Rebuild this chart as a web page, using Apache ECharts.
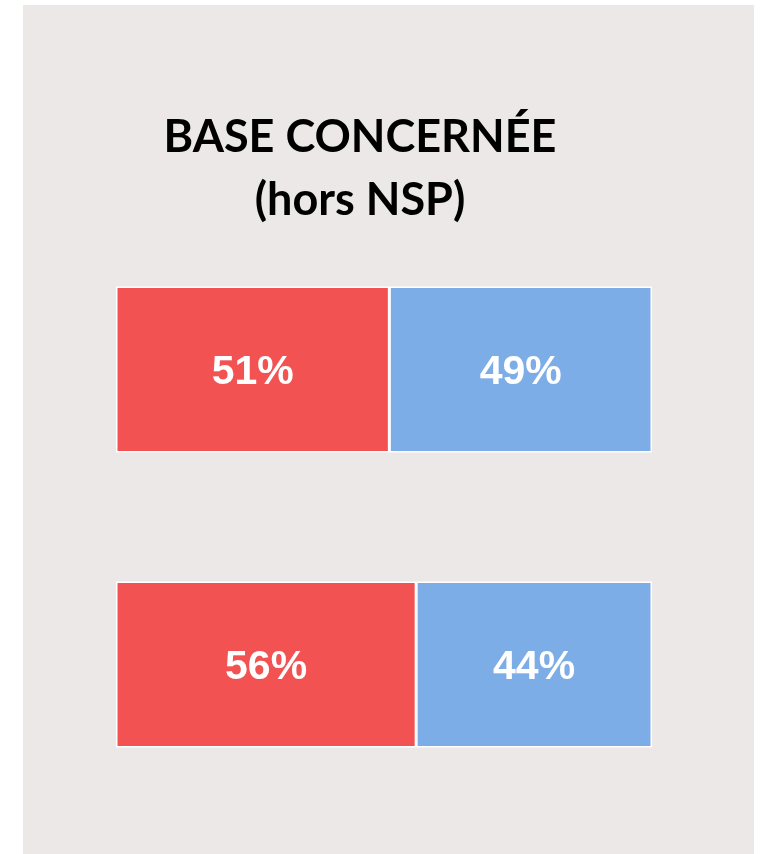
<!DOCTYPE html>
<html>
<head>
<meta charset="utf-8">
<script src="https://cdn.jsdelivr.net/npm/echarts@6/dist/echarts.min.js"></script>
<style>
html,body{margin:0;padding:0;background:#ffffff;}
#chart{width:763px;height:854px;}
</style>
</head>
<body>
<div id="chart"></div>
<script>
const categories = ['Ensemble', 'Base concernée'];
const seriesRed = [51, 56];
const seriesBlue = [49, 44];
const titleLines = ['BASE CONCERNÉE', '(hors NSP)'];

const chart = echarts.init(document.getElementById('chart'), null, {renderer: 'canvas'});
const labelStyle = {
  show: true,
  position: 'inside',
  offset: [0, 3],
  color: '#ffffff',
  fontFamily: '"Liberation Sans", Arial, sans-serif',
  fontWeight: 'bold',
  fontSize: 41,
  formatter: p => p.value + '%'
};
chart.setOption({
  animation: false,
  backgroundColor: '#ffffff',
  graphic: [
    {type: 'rect', z: -10, shape: {x: 23, y: 5, width: 731, height: 849}, style: {fill: '#ECE8E7'}},
    {type: 'text', z: 10, x: 360, y: 106, style: {
      text: titleLines.join('\n'), textAlign: 'center', textVerticalAlign: 'top',
      font: 'bold 45px Lato, "Open Sans", sans-serif', lineHeight: 63, fill: '#000000'
    }}
  ],
  grid: {left: 116, right: 111, top: 222, height: 590, containLabel: false},
  xAxis: {type: 'value', min: 0, max: 100, show: false},
  yAxis: {type: 'category', data: categories, inverse: true, show: false},
  series: [
    {type: 'bar', stack: 's', data: seriesRed, barWidth: 166,
     itemStyle: {color: '#F25252', borderColor: '#ffffff', borderWidth: 1.5}, label: labelStyle},
    {type: 'bar', stack: 's', data: seriesBlue, barWidth: 166,
     itemStyle: {color: '#7DADE6', borderColor: '#ffffff', borderWidth: 1.5}, label: labelStyle}
  ]
});
</script>
</body>
</html>
